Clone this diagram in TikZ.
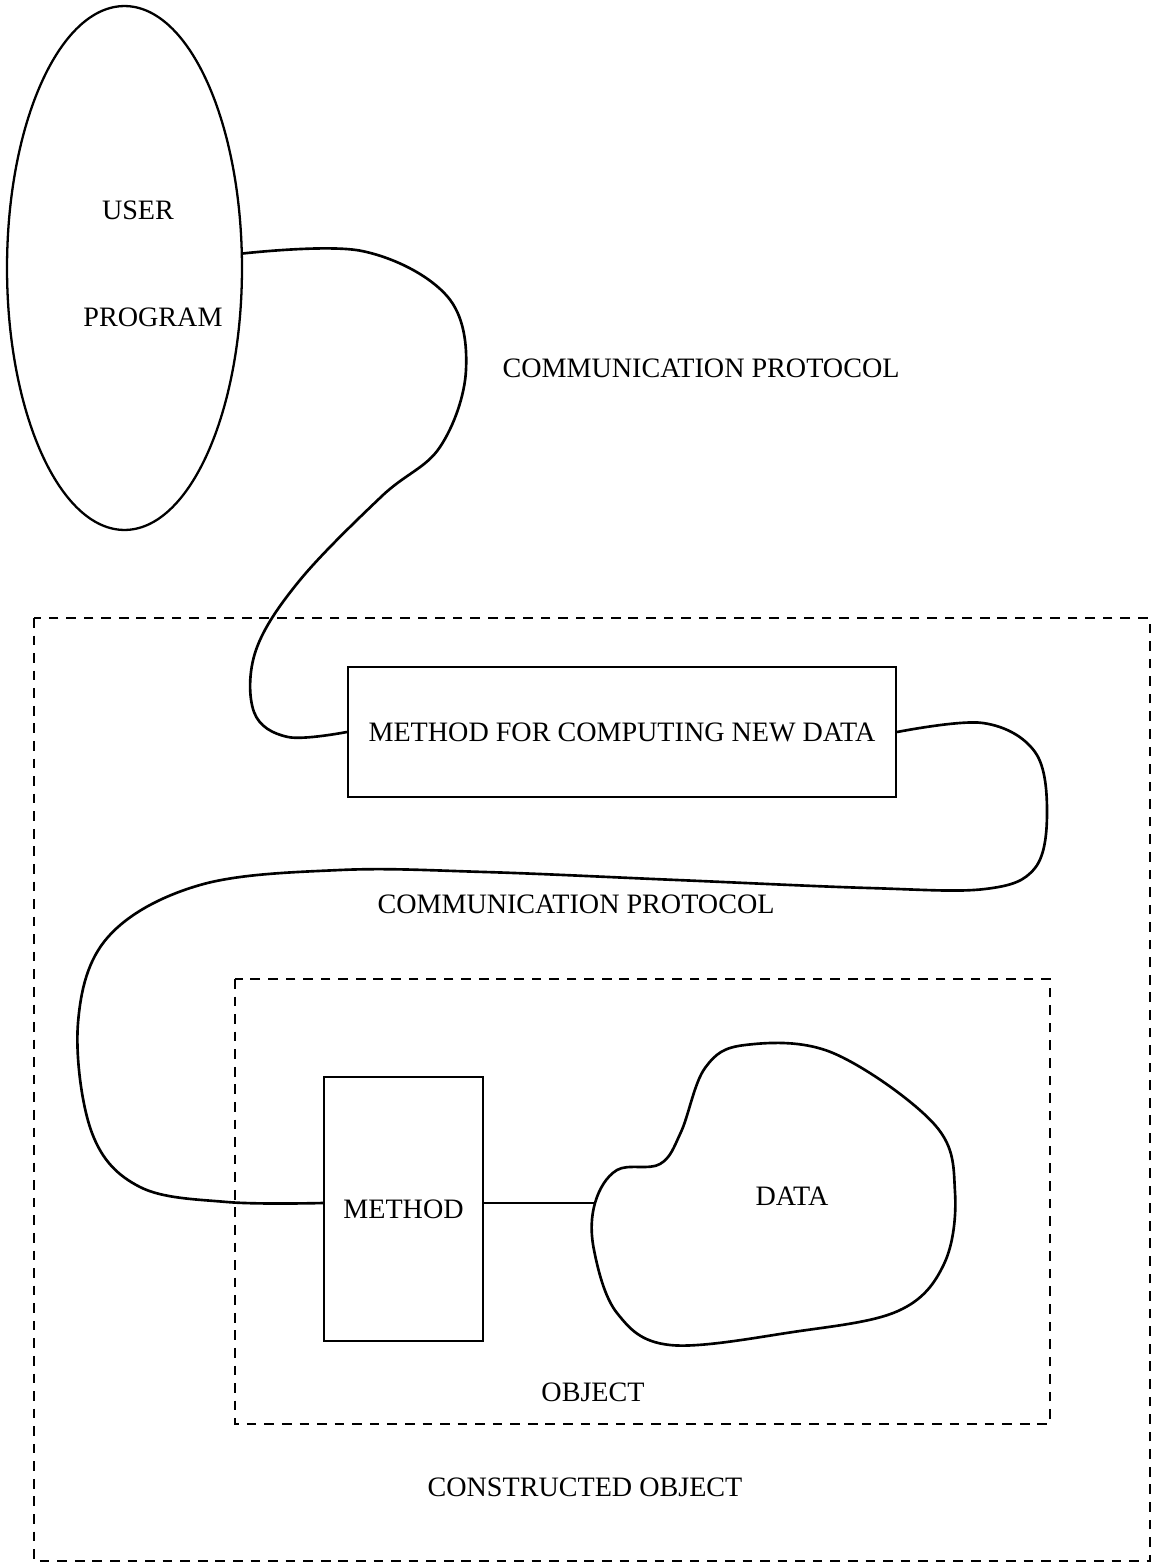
\documentclass[tikz,border=0pt]{standalone}
\usepackage{fontspec}
\setmainfont{Liberation Serif}
\usetikzlibrary{shapes.geometric}
\tikzset{
  lbl/.style={font=\fontsize{16}{19}\selectfont, inner sep=0pt},
  blk/.style={rectangle, draw, line width=1.3pt, align=center, inner sep=0pt,
              font=\fontsize{16}{19}\selectfont},
  wire/.style={line width=1.5pt, line join=round},
  dashbox/.style={line width=1.6pt, dash pattern=on 5.5pt off 4.5pt}
}
\begin{document}
\begin{tikzpicture}[x=0.02cm, y=-0.02cm,
  usr/.style={ellipse, draw, line width=1.3pt, inner sep=0pt,
              minimum width=4.7cm, minimum height=10.48cm}]
  \useasboundingbox (0,0) rectangle (1152,1565);
  \node[usr] (user) at (124.5,268) {};
  \node[lbl] (usrtop) at (138,210) {USER};
  \node[lbl] (usrbot) at (153,317) {PROGRAM};
  \node[lbl] (cp1) at (701,368) {COMMUNICATION PROTOCOL};
  \draw[dashbox] (34,618) rectangle (1150,1561);
  \draw[dashbox] (235,979) rectangle (1050,1424);
  \node[blk, minimum width=10.96cm, minimum height=2.6cm] (mfc) at (622,732)
    {METHOD FOR COMPUTING NEW DATA};
  \node[lbl] (cp2) at (576,904) {COMMUNICATION PROTOCOL};
  \node[blk, minimum width=3.18cm, minimum height=5.28cm] (meth) at (403.5,1209)
    {METHOD};
  \coordinate (datin) at (595,1203);
  \node[lbl] (dat) at (792,1196) {DATA};
  \node[lbl] (obj) at (593,1392) {OBJECT};
  \node[lbl] (cobj) at (585,1487) {CONSTRUCTED OBJECT};
  % protocol links
  \draw[wire] plot[smooth, tension=0.6] coordinates {(user.7) (362,251)
    (447,296) (466,370) (440,447) (382,496) (300,580) (256,650) (254,712)
    (288,737) (mfc.west)};
  \draw[wire] plot[smooth, tension=0.6] coordinates {(mfc.east) (983,723)
    (1035,752) (1047,812) (1035,868) (985,889) (869,888) (677,880) (485,872)
    (340,870) (200,885) (108,937) (78,1023) (92,1133) (140,1187) (227,1202)
    (meth.west |- datin)};
  % data blob
  \draw[wire] plot[smooth cycle, tension=0.6] coordinates {(datin) (617,1170)
    (660,1164) (681,1132) (705,1068) (745,1045) (833,1053) (935,1125)
    (955,1192) (944,1264) (898,1311) (793,1332) (670,1345) (617,1313)
    (594,1250)};
  \draw[wire] (datin -| meth.east) -- (datin);
\end{tikzpicture}
\end{document}
